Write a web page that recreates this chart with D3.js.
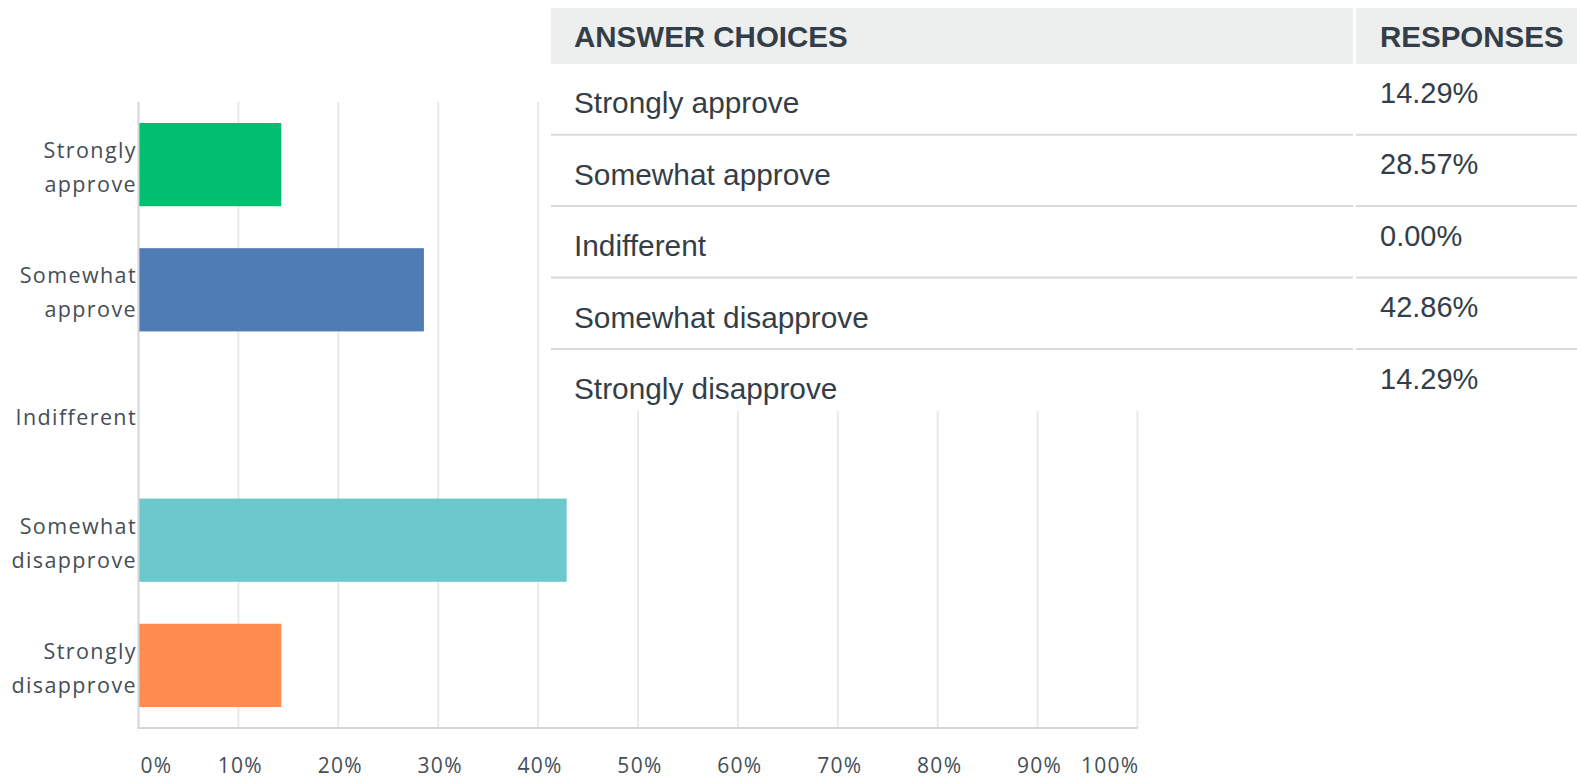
<!DOCTYPE html>
<html>
<head>
<meta charset="utf-8">
<script src="https://cdn.jsdelivr.net/npm/d3@7"></script>
<style>
  html, body { margin: 0; padding: 0; background: #fff; }
  svg { display: block; }
</style>
</head>
<body>
<svg id="chart" width="1577" height="780"></svg>
<script>
// ---- data ----
const categories = ["Strongly approve", "Somewhat approve", "Indifferent", "Somewhat disapprove", "Strongly disapprove"];
const values = [14.29, 28.57, 0.00, 42.86, 14.29];
const barColors = ["#00bf6f", "#507cb6", "#f9be00", "#6bc8cd", "#ff8b4f"];
const xTicks = [0, 10, 20, 30, 40, 50, 60, 70, 80, 90, 100];
const tableHeaders = ["ANSWER CHOICES", "RESPONSES"];

// ---- chart ----
const svg = d3.select("#chart");
const plot = { left: 138.5, right: 1137.5, top: 102, bottom: 728 };

const x = d3.scaleLinear().domain([0, 100]).range([plot.left, plot.right]);
const y = d3.scaleBand().domain(categories).range([plot.top, plot.bottom])
  .paddingInner(0.335).paddingOuter(0.1675);

const labelFont = "'Open Sans', sans-serif";
const labelColor = "#454e56";

// gridlines
svg.append("g").selectAll("line").data(xTicks.slice(1)).join("line")
  .attr("x1", d => x(d)).attr("x2", d => x(d))
  .attr("y1", plot.top).attr("y2", plot.bottom)
  .attr("stroke", "#e8e9ea").attr("stroke-width", 2);

// bars
svg.append("g").selectAll("rect").data(categories).join("rect")
  .attr("x", x(0))
  .attr("y", d => y(d))
  .attr("width", (d, i) => x(values[i]) - x(0))
  .attr("height", y.bandwidth())
  .attr("fill", (d, i) => barColors[i]);

// axis lines
svg.append("line").attr("x1", x(0)).attr("x2", x(0)).attr("y1", plot.top).attr("y2", plot.bottom)
  .attr("stroke", "#d3d5d6").attr("stroke-width", 2);
svg.append("line").attr("x1", x(0) - 1).attr("x2", x(100)).attr("y1", plot.bottom).attr("y2", plot.bottom)
  .attr("stroke", "#d3d5d6").attr("stroke-width", 2);

// x tick labels
svg.append("g").selectAll("text").data(xTicks).join("text")
  .attr("x", (d, i) => x(d) + 2)
  .attr("y", 773)
  .attr("text-anchor", (d, i) => i === 0 ? "start" : (i === xTicks.length - 1 ? "end" : "middle"))
  .attr("font-family", labelFont).attr("font-size", 21).attr("letter-spacing", 1.3)
  .attr("fill", labelColor)
  .text(d => d + "%");

// y labels
const yl = svg.append("g").selectAll("text").data(categories).join("text")
  .attr("text-anchor", "end")
  .attr("font-family", labelFont).attr("font-size", 21.5).attr("letter-spacing", 1.4)
  .attr("fill", labelColor);
yl.each(function(d) {
  const words = d.split(" ");
  const cy = y(d) + y.bandwidth() / 2 + 2;
  const t = d3.select(this);
  if (words.length === 1) {
    t.append("tspan").attr("x", 137).attr("y", cy).attr("dy", "0.35em").text(words[0]);
  } else {
    t.append("tspan").attr("x", 137).attr("y", cy - 16).attr("dy", "0.35em").text(words[0]);
    t.append("tspan").attr("x", 137).attr("y", cy + 18).attr("dy", "0.35em").text(words.slice(1).join(" "));
  }
});

// ---- table ----
const tbl = { left: 551, split: 1354.5, right: 1577, headTop: 8, headBottom: 64, bottom: 411 };
const rowLine = d3.scaleLinear().domain([0, 1]).range([134.7, 206.1]);
const tableFont = "'Liberation Sans', Arial, sans-serif";
const tableColor = "#333e48";

const tg = svg.append("g");
tg.append("rect").attr("x", tbl.left).attr("y", 0).attr("width", tbl.right - tbl.left).attr("height", tbl.bottom)
  .attr("fill", "#fff");
// header cells
tg.append("rect").attr("x", tbl.left).attr("y", tbl.headTop).attr("width", tbl.split - 1.5 - tbl.left)
  .attr("height", tbl.headBottom - tbl.headTop).attr("fill", "#edeeee");
tg.append("rect").attr("x", tbl.split + 1.5).attr("y", tbl.headTop).attr("width", tbl.right - tbl.split - 1.5)
  .attr("height", tbl.headBottom - tbl.headTop).attr("fill", "#edeeee");
tg.selectAll("text.head").data(tableHeaders).join("text").attr("class", "head")
  .attr("x", (d, i) => i === 0 ? 574 : 1380).attr("y", 46.5)
  .attr("font-family", tableFont).attr("font-weight", "bold").attr("font-size", 29.5)
  .attr("fill", tableColor).text(d => d);

// row separators
const seps = d3.range(categories.length - 1);
tg.selectAll("line.sep1").data(seps).join("line").attr("class", "sep1")
  .attr("x1", tbl.left).attr("x2", tbl.split - 1.5)
  .attr("y1", d => rowLine(d)).attr("y2", d => rowLine(d))
  .attr("stroke", "#d8dadb").attr("stroke-width", 2);
tg.selectAll("line.sep2").data(seps).join("line").attr("class", "sep2")
  .attr("x1", tbl.split + 1.5).attr("x2", tbl.right)
  .attr("y1", d => rowLine(d)).attr("y2", d => rowLine(d))
  .attr("stroke", "#d8dadb").attr("stroke-width", 2);

// row text
tg.selectAll("text.cat").data(categories).join("text").attr("class", "cat")
  .attr("x", 574).attr("y", (d, i) => rowLine(i) - 21.4)
  .attr("font-family", tableFont).attr("font-size", 29.8).attr("fill", tableColor)
  .text(d => d);
tg.selectAll("text.val").data(values).join("text").attr("class", "val")
  .attr("x", 1380).attr("y", (d, i) => rowLine(i) - 31.7)
  .attr("font-family", tableFont).attr("font-size", 29).attr("fill", tableColor)
  .text(d => d.toFixed(2) + "%");
</script>
</body>
</html>
